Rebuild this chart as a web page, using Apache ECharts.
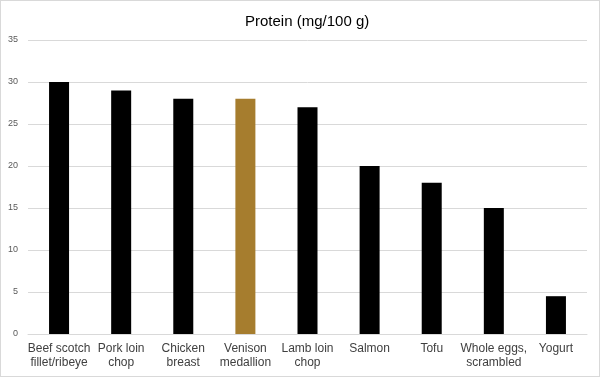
<!DOCTYPE html>
<html>
<head>
<meta charset="utf-8">
<script src="https://cdn.jsdelivr.net/npm/echarts@6/dist/echarts.min.js"></script>
<style>
  html, body { margin: 0; padding: 0; background: #fff; }
  #chart { width: 600px; height: 377px; box-sizing: border-box; border: 1px solid #d9d9d9; }
</style>
</head>
<body>
<div id="chart"></div>
<script>
// data
const foods = ['Beef scotch\nfillet/ribeye', 'Pork loin\nchop', 'Chicken\nbreast', 'Venison\nmedallion',
  'Lamb loin\nchop', 'Salmon', 'Tofu', 'Whole eggs,\nscrambled', 'Yogurt']
const protein = [30, 29, 28, 28, 27, 20, 18, 15, 4.5]
const highlight = 'Venison\nmedallion'

const myChart = echarts.init(document.getElementById('chart'))
const option = {
  animation: false,
  textStyle: { fontFamily: 'Liberation Sans, Arial, sans-serif' },
  title: {
    text: 'Protein (mg/100 g)',
    left: 239,
    top: 8,
    textStyle: { fontSize: 15, fontWeight: 'normal', color: '#000' }
  },
  grid: { left: 27, right: 12, top: 39, bottom: 42 },
  xAxis: {
    type: 'category',
    data: foods,
    axisLine: { lineStyle: { color: '#d9d9d9' } },
    axisTick: { show: false },
    axisLabel: { color: '#404040', fontSize: 12, lineHeight: 14, margin: 8, interval: 0 }
  },
  yAxis: {
    type: 'value',
    min: 0,
    max: 35,
    interval: 5,
    axisLine: { show: false },
    axisTick: { show: false },
    axisLabel: { color: '#595959', fontSize: 9, margin: 10 },
    splitLine: { lineStyle: { color: '#d9d9d9' } }
  },
  series: [
    {
      type: 'bar',
      barWidth: 20,
      data: protein.map((v, i) => ({
        value: v,
        itemStyle: { color: foods[i] === highlight ? '#a67d2e' : '#000' }
      }))
    }
  ]
}
myChart.setOption(option)
</script>
</body>
</html>
